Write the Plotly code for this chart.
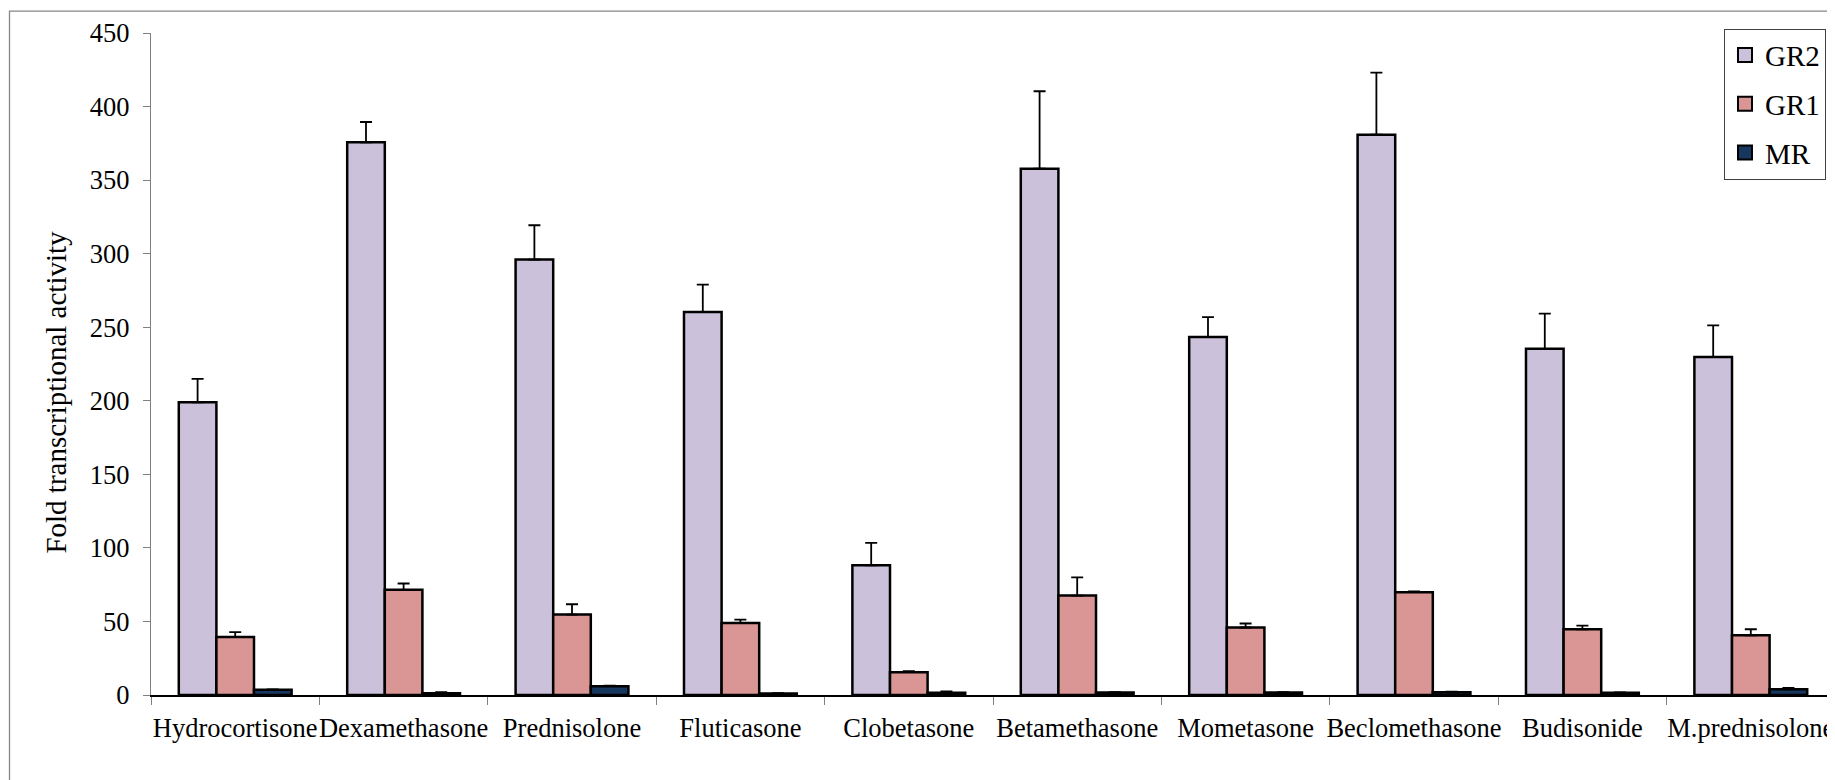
import plotly.graph_objects as go

categories = ["Hydrocortisone", "Dexamethasone", "Prednisolone", "Fluticasone", "Clobetasone",
              "Betamethasone", "Mometasone", "Beclomethasone", "Budisonide", "M.prednisolone"]

gr2 = [199.0, 375.7, 296.0, 260.4, 88.2, 357.8, 243.4, 380.9, 235.3, 229.8]
gr2_err = [15.9, 13.8, 23.3, 18.6, 15.2, 52.6, 13.4, 42.1, 24.0, 21.5]

gr1 = [39.5, 71.5, 54.7, 49.0, 15.5, 67.6, 45.9, 69.9, 44.7, 40.6]
gr1_err = [3.2, 4.3, 7.0, 2.3, 0.7, 12.3, 2.7, 0.6, 2.5, 4.1]

mr = [3.5, 1.2, 6.0, 1.0, 1.5, 1.7, 1.7, 1.9, 1.5, 3.9]
mr_err = [0.3, 0.7, 0.3, 0.3, 0.9, 0.3, 0.3, 0.3, 0.2, 1.0]

series_names = ["GR2", "GR1", "MR"]
series_colors = ["#CCC1DA", "#DA9694", "#17375E"]

y_ticks = [0, 50, 100, 150, 200, 250, 300, 350, 400, 450]

FONT = "Liberation Serif, Times New Roman, serif"

# page body margin offset (the figure is drawn 8px right/down in the window)
OFF = 8
W, H = 1835, 780
# desired plot area in window pixels
WIN_L, WIN_R, WIN_T, WIN_B = 151, 1835, 33.3, 695.5
ML = WIN_L - OFF
MR_ = W - (WIN_R - OFF)
MT = WIN_T - OFF
MB = H - (WIN_B - OFF)

def px_x(p):
    return (p - WIN_L) / (WIN_R - WIN_L)

def px_y(p):
    return (WIN_B - p) / (WIN_B - WIN_T)

fig = go.Figure()
for name, vals, errs, col in zip(series_names, [gr2, gr1, mr], [gr2_err, gr1_err, mr_err], series_colors):
    fig.add_trace(go.Bar(
        x=categories, y=vals, name=name, legendgroup=name, showlegend=False,
        marker=dict(color=col, line=dict(color="#000000", width=2.5)),
        error_y=dict(type="data", array=errs, arrayminus=[0] * len(errs), symmetric=False,
                     color="#000000", thickness=1.8, width=6),
    ))
    # legend swatch (square with a heavy black border, as in the reference)
    fig.add_trace(go.Scatter(
        x=[None], y=[None], mode="markers", name=name, legendgroup=name, showlegend=True,
        marker=dict(symbol="square", size=14, color=col, line=dict(color="#000000", width=2)),
        hoverinfo="skip",
    ))

fig.update_layout(
    width=W, height=H,
    margin=dict(l=ML, r=MR_, t=MT, b=MB, autoexpand=False),
    paper_bgcolor="white", plot_bgcolor="white",
    barmode="group", bargap=0.33, bargroupgap=0,
    font=dict(family=FONT, size=26.5, color="#000000"),
    showlegend=True,
    legend=dict(
        x=px_x(1724), y=px_y(29), xanchor="left", yanchor="top",
        bgcolor="white", bordercolor="#404040", borderwidth=1,
        font=dict(family=FONT, size=29, color="#000000"),
        tracegroupgap=8, traceorder="grouped", itemsizing="trace",
    ),
    xaxis=dict(
        type="category", range=[-0.5, len(categories) - 0.5],
        showline=True, linecolor="#000000", linewidth=1.5,
        ticks="outside", tickson="boundaries", ticklen=8, tickcolor="#808080", tickwidth=1.3,
        tickangle=0, ticklabelstandoff=8,
        tickfont=dict(family=FONT, size=26.5, color="#000000"),
        showgrid=False, zeroline=False,
    ),
    yaxis=dict(
        range=[0, 450], tickvals=y_ticks, ticktext=[str(v) for v in y_ticks],
        showline=True, linecolor="#808080", linewidth=1.3,
        ticks="outside", ticklen=7, tickcolor="#808080", tickwidth=1.3,
        ticklabelstandoff=8,
        tickfont=dict(family=FONT, size=26.5, color="#000000"),
        showgrid=False, zeroline=False,
    ),
    annotations=[dict(
        text="Fold transcriptional activity", textangle=-90,
        xref="paper", yref="paper", x=px_x(56), y=px_y(393),
        xanchor="center", yanchor="middle", showarrow=False,
        font=dict(family=FONT, size=29, color="#000000"),
    )],
    shapes=[dict(
        type="rect", xref="paper", yref="paper",
        x0=px_x(9.5), y0=px_y(900), x1=px_x(2000), y1=px_y(11.5),
        line=dict(color="#868686", width=1.3), fillcolor="rgba(0,0,0,0)", layer="below",
    )],
)

fig.write_html("out.html")
